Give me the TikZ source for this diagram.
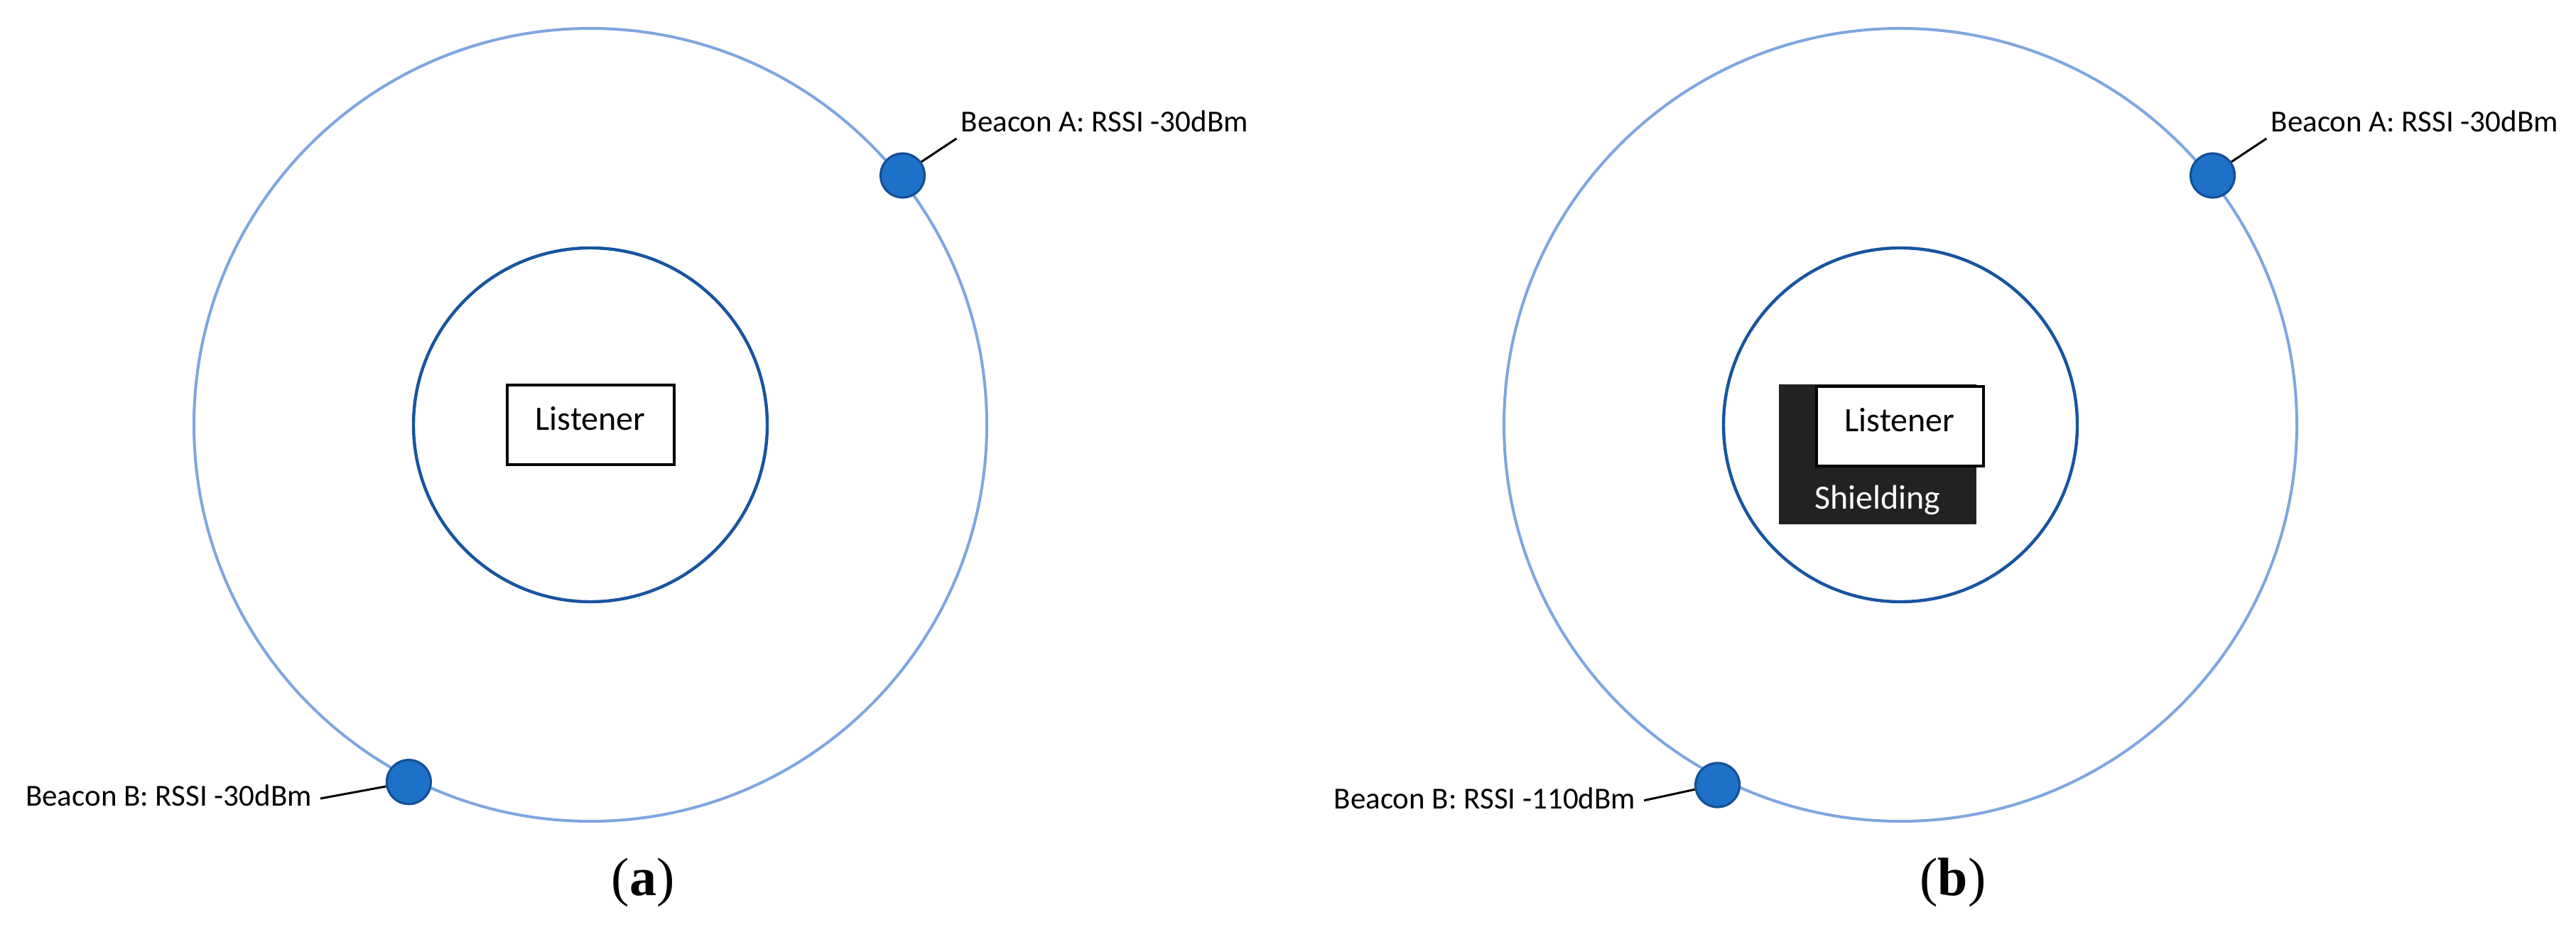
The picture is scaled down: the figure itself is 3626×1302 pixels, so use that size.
\documentclass[tikz,border=0pt]{standalone}
\usepackage{fontspec}
\setmainfont{Carlito}
\newfontfamily\capfont{Liberation Serif}
\definecolor{ringout}{RGB}{126,166,224}
\definecolor{ringin}{RGB}{24,84,160}
\definecolor{beaconfill}{RGB}{30,113,200}
\definecolor{beaconline}{RGB}{20,80,150}
\definecolor{shield}{RGB}{34,34,34}
\begin{document}
\begin{tikzpicture}[x=0.25pt,y=-0.25pt,
  outerring/.style={circle, draw=ringout, line width=1pt, minimum size=279pt, inner sep=0pt},
  innerring/.style={circle, draw=ringin, line width=1.1pt, minimum size=124.5pt, inner sep=0pt},
  beacon/.style={circle, fill=beaconfill, draw=beaconline, line width=0.8pt, minimum size=15.5pt, inner sep=0pt},
  boxlistener/.style={rectangle, draw=black, fill=white, line width=1pt, minimum width=58.75pt, minimum height=28pt, inner sep=0pt, font=\fontsize{12}{14}\selectfont, text height=7.7pt, text depth=3.7pt},
  shieldbox/.style={rectangle, fill=shield, text=white, minimum width=69.4pt, minimum height=49.2pt, inner sep=0pt, font=\fontsize{12}{14}\selectfont, text height=44pt, text depth=5.2pt},
  beaconlabel/.style={inner sep=0pt, font=\fontsize{10.75}{13}\selectfont},
  leader/.style={draw=black, line width=0.75pt},
  caption/.style={inner sep=0pt, anchor=base, font=\capfont\fontsize{19}{22}\selectfont}]
\useasboundingbox (0,0) rectangle (3626,1302);
% ---------- panel (a)
\node[outerring] (oA) at (831,598) {};
\node[innerring] (iA) at (831,598) {};
\node[boxlistener] (lisA) at (831,598) {Listener};
\node[beacon] (bA1) at (1270.5,247) {};
\node[beacon] (bA2) at (575.4,1100.7) {};
\node[beaconlabel, anchor=base west] (lA1) at (1351.8,186) {Beacon A: RSSI -30dBm};
\node[beaconlabel, anchor=base east] (lA2) at (439.7,1134) {Beacon B: RSSI -30dBm};
\draw[leader] (bA1.36) -- ([xshift=-1.35pt,yshift=-2.25pt]lA1.base west);
\draw[leader] (bA2.191) -- ([xshift=2.8pt,yshift=2.5pt]lA2.base east);
\node[caption] (capA) at (905,1260) {(\textbf{a})};
% ---------- panel (b)
\node[outerring] (oB) at (2675,598) {};
\node[innerring] (iB) at (2675,598) {};
\node[shieldbox] (shB) at (2643,639.35) {Shielding};
\node[boxlistener] (lisB) at (2674,600) {Listener};
\node[beacon] (bB1) at (3114.5,247) {};
\node[beacon] (bB2) at (2417.6,1105) {};
\node[beaconlabel, anchor=base west] (lB1) at (3195.8,186) {Beacon A: RSSI -30dBm};
\node[beaconlabel, anchor=base east] (lB2) at (2303,1138.3) {Beacon B: RSSI -110dBm};
\draw[leader] (bB1.36) -- ([xshift=-1.35pt,yshift=-2.25pt]lB1.base west);
\draw[leader] (bB2.191) -- ([xshift=2.8pt,yshift=2.9pt]lB2.base east);
\node[caption] (capB) at (2749,1260) {(\textbf{b})};
\end{tikzpicture}
\end{document}
